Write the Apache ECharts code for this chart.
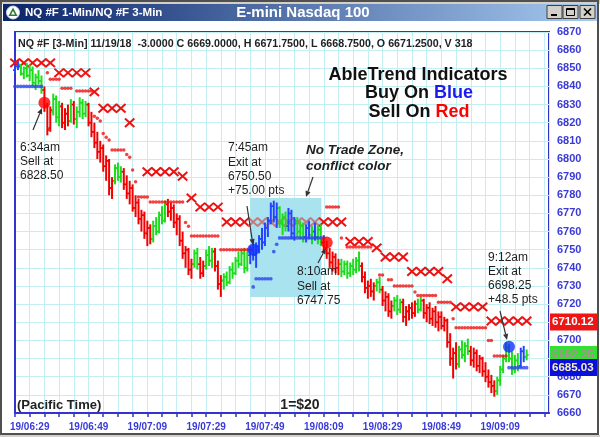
<!DOCTYPE html>
<html><head><meta charset="utf-8">
<script src="https://cdn.jsdelivr.net/npm/echarts@6/dist/echarts.min.js"></script>
<style>html,body{margin:0;padding:0;background:#fff;overflow:hidden}#c{width:600px;height:437px}</style>
</head><body><div id="c"></div>
<script>
// ---- data (1-minute bars, t = minutes since 06:24) ----
const labelMinutes = [5, 25, 45, 65, 85, 105, 125, 145, 165];
const timeLabels = ['19/06:29','19/06:49','19/07:09','19/07:29','19/07:49','19/08:09','19/08:29','19/08:49','19/09:09'];

const barOpen = [6849,6851,6852,6847,6850,6846,6849,6842,6845,6843, 6838,6829,6817,6826,6833,6823,6829,6820,6825,6821,
6830,6822,6826,6831,6825,6830,6820,6815,6809,6804, 6806,6796,6799,6784,6788,6795,6790,6793,6786,6781,
6784,6773,6776,6767,6769,6759,6762,6756,6763,6760, 6769,6766,6775,6771,6773,6765,6767,6755,6748,6750,
6739,6742,6748,6742,6737,6741,6747,6744,6749,6741, 6731,6733,6735,6732,6739,6737,6744,6742,6748,6740,
6747,6750,6747,6752,6756,6754,6762,6766,6774,6768, 6773,6765,6768,6763,6770,6759,6765,6760,6763,6757,
6762,6758,6760,6757,6761,6754,6751,6748,6743,6746, 6740,6742,6738,6742,6737,6741,6739,6744,6741,6735,
6729,6730,6727,6730,6732,6728,6722,6724,6716,6719, 6722,6717,6721,6713,6716,6718,6715,6720,6717,6722,
6715,6718,6712,6716,6710,6713,6708,6711,6699,6690, 6693,6687,6695,6692,6697,6694,6689,6693,6686,6690,
6683,6680,6677,6675,6672,6678,6684,6690,6696,6690, 6684,6689,6686,6694,6691];
const barHigh = [6852,6854,6852,6851,6853,6852,6851,6847,6849,6846, 6840,6831,6829,6836,6835,6832,6831,6828,6830,6833,
6832,6829,6834,6833,6832,6831,6826,6820,6815,6810, 6808,6802,6800,6790,6797,6798,6796,6795,6791,6788,
6786,6780,6778,6772,6771,6766,6764,6766,6768,6771, 6774,6777,6778,6776,6775,6770,6769,6760,6752,6751,
6745,6750,6751,6746,6744,6750,6752,6751,6751,6744, 6736,6737,6738,6741,6743,6746,6749,6750,6751,6749,
6752,6755,6754,6758,6762,6765,6768,6776,6777,6776, 6774,6770,6771,6773,6772,6768,6768,6766,6765,6764,
6766,6763,6765,6763,6764,6758,6755,6751,6749,6748, 6745,6745,6744,6744,6743,6745,6746,6749,6743,6738,
6733,6734,6732,6734,6735,6730,6727,6726,6722,6724, 6725,6723,6723,6719,6720,6721,6722,6723,6724,6723,
6720,6721,6718,6719,6716,6716,6713,6712,6704,6696, 6699,6697,6700,6699,6701,6697,6696,6695,6692,6691,
6688,6684,6681,6678,6680,6686,6692,6699,6698,6694, 6692,6693,6696,6697,6695];
const barLow = [6847,6849,6846,6844,6845,6843,6840,6838,6841,6836, 6826,6813,6815,6824,6820,6818,6817,6816,6818,6820,
6819,6817,6823,6822,6823,6818,6812,6806,6800,6798, 6793,6788,6780,6778,6786,6788,6787,6783,6778,6775,
6771,6768,6764,6760,6756,6752,6753,6754,6758,6759, 6764,6765,6768,6766,6762,6758,6752,6745,6740,6736,
6734,6740,6739,6734,6735,6739,6741,6740,6738,6728, 6724,6728,6730,6731,6734,6736,6740,6741,6737,6738,
6742,6744,6740,6748,6750,6752,6757,6764,6765,6762, 6762,6758,6760,6760,6756,6755,6757,6756,6754,6754,
6756,6753,6755,6753,6752,6749,6745,6740,6738,6737, 6736,6735,6736,6734,6735,6736,6737,6738,6732,6726,
6723,6724,6722,6727,6726,6719,6716,6713,6712,6716, 6714,6715,6710,6708,6711,6712,6713,6715,6716,6712,
6710,6709,6708,6707,6705,6706,6705,6696,6686,6679, 6684,6685,6690,6688,6692,6686,6685,6683,6682,6680,
6677,6674,6671,6669,6670,6675,6682,6688,6688,6681, 6682,6683,6685,6688,6689];
const barClose = [6851,6852,6847,6850,6846,6849,6842,6845,6843,6838, 6829,6816,6827,6833,6823,6829,6820,6825,6821,6830,
6822,6826,6831,6825,6830,6820,6815,6809,6804,6806, 6796,6799,6784,6788,6795,6790,6793,6786,6781,6784,
6773,6776,6767,6769,6759,6762,6756,6763,6760,6769, 6766,6775,6771,6773,6765,6767,6755,6748,6750,6739,
6742,6748,6742,6737,6741,6747,6744,6749,6741,6731, 6733,6735,6732,6739,6737,6744,6742,6748,6740,6747,
6750,6747,6752,6756,6754,6762,6766,6774,6768,6773, 6765,6768,6763,6770,6759,6765,6760,6763,6757,6762,
6758,6760,6757,6761,6754,6751,6748,6743,6746,6740, 6742,6738,6742,6737,6741,6739,6744,6741,6735,6729,
6730,6727,6730,6732,6728,6722,6724,6716,6719,6722, 6717,6721,6713,6716,6718,6715,6720,6717,6722,6715,
6718,6712,6716,6710,6713,6708,6711,6699,6690,6693, 6687,6695,6692,6697,6694,6689,6693,6686,6690,6683,
6680,6677,6675,6672,6678,6684,6690,6696,6690,6684, 6689,6686,6694,6691,6692];
// trend colour of each bar: b = blue (buy), g = green (neutral), r = red (sell)
const barTrend = ('bbgggggggg rrrgggrrrg rggggrrrrr rrrrgggrrr rrrrrrrggg ggrrrrrrrr rggrrgggrr rggggggggg ' +
  'bbbbbbbbbb gggbbbgggb bgbggrrrrr rgggggggrr rrrggrrrrg ggrrrrrggr rrrrrrrrrr rggggrrrrr rrrrgggggg ggbbg')
  .replace(/ /g, '').split('');

// AbleTrend red stop "X" markers [t, price]
const redXStops = [[0,6853],[3,6853],[6,6853],[9,6853],[12,6853],
[15,6847.5],[18,6847.5],[21,6847.5],[24,6847.5],[27,6837],[30,6828],[33,6828],[36,6828],[39,6820],
[45,6793],[48,6793],[51,6793],[54,6793],[57,6790.5],[60,6778.5],[63,6773.5],[66,6773.5],[69,6773.5],
[72,6765.3],[75,6765.3],[78,6765.3],[81,6765.3],[84,6765.3],[87,6765.3],[90,6765.3],[93,6765.3],
[96,6765.3],[99,6765.3],[102,6765.3],[105,6765.3],[108,6765.3],[111,6765.3],
[114,6754.5],[117,6754.5],[120,6754.5],[123,6751],[126,6746],[129,6746],[132,6746],
[135,6738],[138,6738],[141,6738],[144,6738],[147,6734],
[150,6718.5],[153,6718.5],[156,6718.5],[159,6718.5],
[162,6710.7],[165,6710.7],[168,6710.7],[171,6710.7],[174,6710.7]];

// small red stop dots [t, price]
const redDots = [[11,6847.5],[12,6844],[13,6844],[14,6844],[15,6844],[16,6839],[17,6839],[18,6839],[19,6839],
[21,6837.5],[22,6837.5],[23,6837.5],[24,6837.5],[25,6837.5],[26,6837.5],[27,6823.5],[28,6822.5],[29,6821],
[30,6814],[31,6812],[32,6810.5],[33,6805],[34,6805],[35,6805],[36,6805],[37,6805],[38,6802.5],[39,6801],
[40,6794],[41,6787.5],[42,6779],[43,6779],[44,6779],[45,6779],
[46,6776.3],[47,6776.3],[48,6776.3],[49,6776.3],[50,6776.3],[51,6776.3],[52,6776.3],[53,6776.3],[54,6776.3],[55,6776.3],[56,6776.3],[57,6776.3],
[58,6765],[59,6763],[60,6757.5],[61,6757.5],[62,6757.5],[63,6757.5],[64,6757.5],[65,6757.5],[66,6757.5],[67,6757.5],[68,6757.5],[69,6757.5],
[70,6750],[71,6750],[72,6750],[73,6750],[74,6750],[75,6750],[76,6750],[77,6750],[78,6750],[79,6750],[80,6750],
[106,6773.5],[107,6773.5],[108,6773.5],[109,6773.5],[110,6773.5],[111,6756.5],
[113,6751.5],[114,6751.5],[115,6751.5],[116,6751.5],[117,6751.5],[118,6751.5],[119,6751.5],[120,6751.5],[121,6751.5],
[124,6736],[125,6736],[127,6733.5],[128,6733.5],[129,6730],[130,6730],[131,6730],[132,6730],[133,6730],[134,6730],[135,6730],
[136,6726.7],[137,6724.8],[138,6724.8],[139,6724.8],[140,6724.8],[141,6724.8],[142,6724.8],[143,6724.8],
[144,6721],[145,6721],[146,6721],[147,6721],[148,6721],[149,6712],
[150,6707],[151,6707],[152,6707],[153,6707],[154,6707],[155,6707],[156,6707],[157,6707],[158,6707],[159,6707],[160,6707],
[161,6700],[162,6700],[163,6691.4],[164,6691.4],[165,6691.4],[166,6691.4],[167,6691.4]];

// blue support dots [t, price]
const blueDots = [[0,6840],[1,6840],[2,6840],[3,6840],[4,6840],[5,6840],[6,6840],[7,6840],[8,6840],[9,6840],
[81,6729.5],[82,6734],[83,6734],[84,6734],[85,6734],[86,6734],[87,6734],[88,6749],[89,6753],
[90,6756.5],[91,6756.5],[92,6756.5],[93,6756.5],[94,6756.5],[95,6756.5],[96,6756.5],[97,6756.5],
[98,6756.5],[99,6756.5],[100,6756.5],[101,6756.5],[102,6756.5],[103,6756.5],[104,6756.5],[105,6756.5],
[168,6685],[169,6685],[170,6685],[171,6685],[172,6685],[173,6685],[174,6685]];

// buy/sell signals [t, price, side]
const signals = [[10,6831,'sell'],[81,6750,'buy'],[106,6754,'sell'],[168,6696.5,'buy']];

// no trade zone
const zoneTime = [80, 104.2];
const zonePrice = [6724, 6778.5];

// current value boxes on the price scale
const boxValues = [6710.12, 6692.25, 6685.03];
const boxLabels = ['6710.12', '6692.25', '6685.03'];

// ---- chart ----
const FONT = 'Arial, "Liberation Sans", sans-serif';
const trendColor = { r: '#f00000', g: '#1cdc1c', b: '#2444ff' };
const AXIS_BLUE = '#3434cc';
const GRID = '#c3eff3';

const chart = echarts.init(document.getElementById('c'), null, { renderer: 'canvas' });

const barData = barOpen.map((o, i) => [i, o, barHigh[i], barLow[i], barClose[i]]);

const option = {
  animation: false,
  backgroundColor: '#ffffff',
  grid: { left: 15, right: 51, top: 32, bottom: 24, show: true, borderColor: AXIS_BLUE, borderWidth: 2, backgroundColor: '#ffffff' },
  xAxis: {
    type: 'value', min: 0, max: 181.6, interval: 5,
    axisLine: { show: true, lineStyle: { color: AXIS_BLUE, width: 2 } },
    axisTick: { show: true, length: 4, inside: false, lineStyle: { color: AXIS_BLUE, width: 1.5 } },
    axisLabel: {
      margin: 9, color: '#3a3ad8', fontFamily: FONT, fontSize: 10, fontWeight: 'bold',
      showMinLabel: true, showMaxLabel: false,
      formatter: v => { const i = labelMinutes.indexOf(Math.round(v)); return i >= 0 ? timeLabels[i] : ''; }
    },
    splitLine: { show: true, lineStyle: { color: GRID, width: 1 } }
  },
  yAxis: {
    type: 'value', position: 'right', min: 6660, max: 6870, interval: 10,
    axisLine: { show: true, lineStyle: { color: AXIS_BLUE, width: 2 } },
    axisTick: { show: false },
    axisLabel: { margin: 8, color: '#3a3ad8', fontFamily: FONT, fontSize: 11, fontWeight: 'bold', formatter: v => String(v) },
    splitLine: { show: true, lineStyle: { color: GRID, width: 1 } }
  },
  series: [
    {
      type: 'custom', name: 'zone', silent: true, z: 1,
      data: [[zoneTime[0], zonePrice[1], zoneTime[1], zonePrice[0]]],
      encode: { x: [0, 2], y: [1, 3] },
      renderItem: (params, api) => {
        const p1 = api.coord([api.value(0), api.value(1)]);
        const p2 = api.coord([api.value(2), api.value(3)]);
        return { type: 'rect', shape: { x: p1[0], y: p1[1], width: p2[0] - p1[0], height: p2[1] - p1[1] },
          style: { fill: '#a9e3ef' } };
      }
    },
    {
      type: 'custom', name: 'stopX', silent: true, z: 3,
      data: redXStops, encode: { x: 0, y: 1 },
      renderItem: (params, api) => {
        const t = api.value(0);
        const p = api.coord([t, api.value(1)]);
        const inZone = t >= zoneTime[0] && t <= zoneTime[1];
        const col = inZone ? '#c27c80' : '#ee1111';
        const w = 4.7, h = 4.2;
        return { type: 'group', children: [
          { type: 'line', shape: { x1: p[0] - w, y1: p[1] - h, x2: p[0] + w, y2: p[1] + h }, style: { stroke: col, lineWidth: 2 } },
          { type: 'line', shape: { x1: p[0] - w, y1: p[1] + h, x2: p[0] + w, y2: p[1] - h }, style: { stroke: col, lineWidth: 2 } }
        ] };
      }
    },
    {
      type: 'custom', name: 'bars', silent: true, z: 4,
      data: barData, encode: { x: 0, y: [1, 2, 3, 4] },
      renderItem: (params, api) => {
        const t = api.value(0);
        const pO = api.coord([t, api.value(1)]);
        const pH = api.coord([t, api.value(2)]);
        const pL = api.coord([t, api.value(3)]);
        const pC = api.coord([t, api.value(4)]);
        const col = trendColor[barTrend[params.dataIndex]];
        const x = pH[0];
        return { type: 'group', children: [
          { type: 'line', shape: { x1: x, y1: pH[1], x2: x, y2: pL[1] }, style: { stroke: col, lineWidth: 2 } },
          { type: 'line', shape: { x1: x - 2, y1: pO[1], x2: x, y2: pO[1] }, style: { stroke: col, lineWidth: 1.6 } },
          { type: 'line', shape: { x1: x, y1: pC[1], x2: x + 2, y2: pC[1] }, style: { stroke: col, lineWidth: 1.6 } }
        ] };
      }
    },
    {
      type: 'scatter', name: 'redDots', silent: true, z: 5,
      data: redDots, symbol: 'circle', symbolSize: 3.5,
      itemStyle: { color: '#ee1111' }
    },
    {
      type: 'scatter', name: 'blueDots', silent: true, z: 5,
      data: blueDots, symbol: 'circle', symbolSize: 3.7,
      itemStyle: { color: '#2a44ee' }
    },
    {
      type: 'scatter', name: 'signals', silent: true, z: 6,
      data: signals.map(s => ({ value: [s[0], s[1]], itemStyle: { color: s[2] === 'buy' ? '#1030ff' : '#ff0000' } })),
      symbol: 'circle', symbolSize: 12
    }
  ]
};
chart.setOption(option);

// ---- annotations & window chrome ----
const TXT = '#1e1e1e';
function text(x, y, s, font, fill, align) {
  return { type: 'text', x: x, y: y, z: 50, silent: true,
    style: { text: s, font: font, fill: fill || TXT, textAlign: align || 'left', textVerticalAlign: 'middle' } };
}
function arrow(x1, y1, x2, y2) {
  const a = Math.atan2(y2 - y1, x2 - x1), L = 6, W = 2.6;
  const bx = x2 - L * Math.cos(a), by = y2 - L * Math.sin(a);
  return [
    { type: 'line', z: 50, silent: true, shape: { x1: x1, y1: y1, x2: bx, y2: by }, style: { stroke: '#333', lineWidth: 1.2 } },
    { type: 'polygon', z: 50, silent: true, shape: { points: [[x2, y2], [bx + W * Math.sin(a), by - W * Math.cos(a)], [bx - W * Math.sin(a), by + W * Math.cos(a)]] }, style: { fill: '#333' } }
  ];
}
const F12 = '12px ' + FONT;
const g = [];
// window frame
g.push({ type: 'rect', z: 40, silent: true, shape: { x: 0, y: 0, width: 600, height: 4 }, style: { fill: '#d4d0c8' } });
g.push({ type: 'rect', z: 40, silent: true, shape: { x: 3, y: 4, width: 594, height: 17 },
  style: { fill: new echarts.graphic.LinearGradient(0, 0, 1, 0, [{ offset: 0, color: '#0a246a' }, { offset: 1, color: '#a6caf0' }]) } });
g.push({ type: 'rect', z: 41, silent: true, shape: { x: 1, y: 1, width: 597, height: 433 }, style: { fill: 'none', stroke: '#505050', lineWidth: 2 } });
g.push({ type: 'rect', z: 40, silent: true, shape: { x: 0, y: 435, width: 600, height: 2 }, style: { fill: '#d4d0c8' } });
// icon
g.push({ type: 'circle', z: 42, silent: true, shape: { cx: 13, cy: 12.5, r: 6.5 }, style: { fill: '#ffffff', stroke: '#d0d8e8', lineWidth: 1 } });
g.push({ type: 'polygon', z: 43, silent: true, shape: { points: [[13, 7.5], [17.5, 16], [8.5, 16]] }, style: { fill: '#2c7a3a' } });
g.push({ type: 'polygon', z: 44, silent: true, shape: { points: [[13, 11], [15, 14.5], [11, 14.5]] }, style: { fill: '#ffffff' } });
g.push(text(25, 13, 'NQ #F 1-Min/NQ #F 3-Min', 'bold 11.5px ' + FONT, '#ffffff'));
g.push(text(303, 13, 'E-mini Nasdaq 100', 'bold 15px ' + FONT, '#ffffff', 'center'));
// window buttons
[547, 563, 580].forEach(bx => {
  g.push({ type: 'rect', z: 42, silent: true, shape: { x: bx, y: 5.5, width: 15, height: 13 }, style: { fill: '#d4d0c8', stroke: '#404040', lineWidth: 1 } });
});
g.push({ type: 'rect', z: 43, silent: true, shape: { x: 551, y: 14, width: 6, height: 2 }, style: { fill: '#000' } });
g.push({ type: 'rect', z: 43, silent: true, shape: { x: 566.5, y: 8.5, width: 8, height: 7 }, style: { fill: 'none', stroke: '#000', lineWidth: 1 } });
g.push({ type: 'rect', z: 43, silent: true, shape: { x: 566.5, y: 8.5, width: 8, height: 1.5 }, style: { fill: '#000' } });
g.push({ type: 'line', z: 43, silent: true, shape: { x1: 584, y1: 8.5, x2: 591, y2: 15.5 }, style: { stroke: '#000', lineWidth: 1.6 } });
g.push({ type: 'line', z: 43, silent: true, shape: { x1: 591, y1: 8.5, x2: 584, y2: 15.5 }, style: { stroke: '#000', lineWidth: 1.6 } });

// header
g.push(text(18, 44, 'NQ #F [3-Min] 11/19/18  -3.0000 C 6669.0000, H 6671.7500, L 6668.7500, O 6671.2500, V 318', 'bold 10.7px ' + FONT, '#222'));
// title block
const BIG = 'bold 18px ' + FONT;
g.push(text(418, 75, 'AbleTrend Indicators', BIG, '#111', 'center'));
g.push({ type: 'text', x: 419, y: 93.5, z: 50, silent: true, style: { text: 'Buy On {b|Blue}', font: BIG, fill: '#111', textAlign: 'center', textVerticalAlign: 'middle', rich: { b: { fill: '#1a1aee', font: BIG } } } });
g.push({ type: 'text', x: 419, y: 112, z: 50, silent: true, style: { text: 'Sell On {r|Red}', font: BIG, fill: '#111', textAlign: 'center', textVerticalAlign: 'middle', rich: { r: { fill: '#ff0000', font: BIG } } } });
// annotations
[['6:34am', 148], ['Sell at', 162], ['6828.50', 176]].forEach(a => g.push(text(20, a[1], a[0], F12)));
[['7:45am', 148], ['Exit at', 163], ['6750.50', 177], ['+75.00 pts', 191]].forEach(a => g.push(text(228, a[1], a[0], F12)));
g.push(text(306, 150, 'No Trade Zone,', 'italic bold 13.5px ' + FONT, '#222'));
g.push(text(306, 166, 'conflict color', 'italic bold 13.5px ' + FONT, '#222'));
[['8:10am', 272], ['Sell at', 287], ['6747.75', 301]].forEach(a => g.push(text(297, a[1], a[0], F12)));
[['9:12am', 258], ['Exit at', 272], ['6698.25', 286], ['+48.5 pts', 300]].forEach(a => g.push(text(488, a[1], a[0], F12)));
g.push(text(17, 405, '(Pacific Time)', 'bold 13px ' + FONT, '#222'));
g.push(text(300, 405, '1=$20', 'bold 14px ' + FONT, '#222', 'center'));
// arrows
g.push(...arrow(33, 130, 42, 108));
g.push(...arrow(247, 206, 253, 245));
g.push(...arrow(313, 177, 306, 197));
g.push(...arrow(318, 263, 326, 248));
g.push(...arrow(500, 311, 507, 340));
// value boxes on the price scale
const boxStyles = [{ fill: '#ee1515', text: '#ffffff' }, { fill: '#33e033', text: '#b08a94' }, { fill: '#0a10d8', text: '#f4f0c0' }];
boxValues.forEach((v, i) => {
  const y = chart.convertToPixel({ yAxisIndex: 0 }, v);
  g.push({ type: 'rect', z: 60 + i, silent: true, shape: { x: 550, y: y - 8.5, width: 47, height: 17 }, style: { fill: boxStyles[i].fill } });
  g.push({ type: 'text', z: 60 + i, x: 552, y: y, silent: true, style: { text: boxLabels[i], font: 'bold 11.5px ' + FONT, fill: boxStyles[i].text, textAlign: 'left', textVerticalAlign: 'middle' } });
});
chart.setOption({ graphic: g });
</script>
</body></html>
